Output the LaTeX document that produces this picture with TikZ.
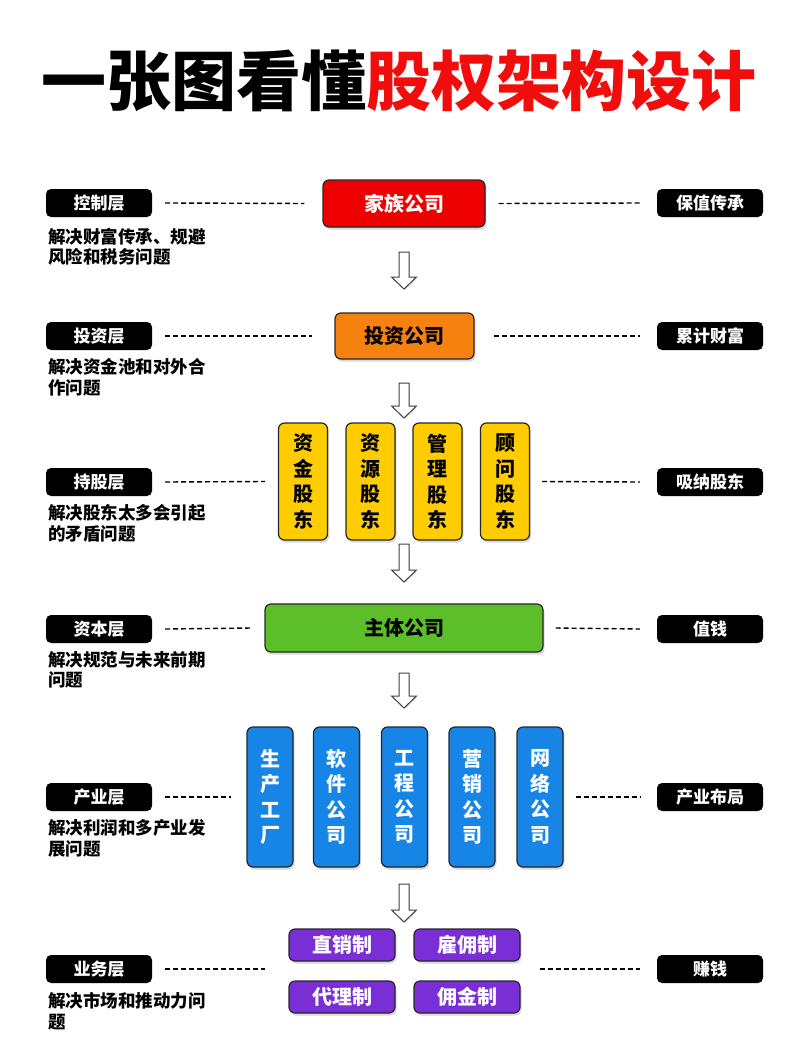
\documentclass[tikz,border=0pt]{standalone}
\usepackage{fontspec}
\setmainfont{Noto Sans CJK SC}
\usetikzlibrary{shadows}
\definecolor{titlered}{HTML}{F20D0D}
\definecolor{cred}{HTML}{EE0000}
\definecolor{corange}{HTML}{F5820F}
\definecolor{cyellow}{HTML}{FFCC00}
\definecolor{cgreen}{HTML}{5CBF2A}
\definecolor{cblue}{HTML}{1685E6}
\definecolor{cpurple}{HTML}{7A2FD6}
\newcommand\blockarrow[3]{%
  \draw[blockarr] (#1-5,#2) -- (#1+5,#2) -- (#1+5,#3-12) -- (#1+12.5,#3-12) -- (#1,#3) -- (#1-12.5,#3-12) -- (#1-5,#3-12) -- cycle;}
\begin{document}
\begin{tikzpicture}[x=1pt,y=-1pt]
\useasboundingbox (0,0) rectangle (800,1044);
\tikzset{
  tag/.style={fill=black, rounded corners=5pt, minimum width=106pt, minimum height=28pt, text=white, font=\fontsize{17}{17}\selectfont\bfseries, inner sep=0pt},
  desc/.style={anchor=west, align=left, font=\fontsize{17.5}{20.5}\selectfont\bfseries, inner sep=0pt},
  box/.style={draw=black!85, line width=1.2pt, rounded corners=6pt, inner sep=0pt, drop shadow={shadow xshift=1.5pt, shadow yshift=-2.5pt, opacity=0.3}},
  hbox/.style={box, font=\fontsize{20}{20}\selectfont\bfseries},
  vbox/.style={box, align=center, font=\fontsize{20}{25.5}\selectfont\bfseries},
  dashline/.style={dash pattern=on 5pt off 3pt, line width=1.4pt},
  blockarr/.style={draw=black!75, fill=white, line width=1pt, line join=miter, drop shadow={shadow xshift=1pt, shadow yshift=-1.5pt, opacity=0.2}}
}
% title
\node[inner sep=0pt, font=\fontsize{65}{65}\selectfont\bfseries] (title) at (399,81) {一张图看懂\textcolor{titlered}{股权架构设计}};

% left tags
\node[tag] (l1) at (99,203) {控制层};
\node[tag] (l2) at (99,336) {投资层};
\node[tag] (l3) at (99,482) {持股层};
\node[tag] (l4) at (99,629) {资本层};
\node[tag] (l5) at (99,797) {产业层};
\node[tag] (l6) at (99,969) {业务层};
% right tags
\node[tag] (r1) at (710,203) {保值传承};
\node[tag] (r2) at (710,336) {累计财富};
\node[tag] (r3) at (710,482) {吸纳股东};
\node[tag] (r4) at (710,629) {值钱};
\node[tag] (r5) at (710,797) {产业布局};
\node[tag] (r6) at (710,969) {赚钱};
% descriptions
\node[desc] (d1) at (48,247) {解决财富传承、规避\\风险和税务问题};
\node[desc] (d2) at (48,377) {解决资金池和对外合\\作问题};
\node[desc] (d3) at (48,523.5) {解决股东太多会引起\\的矛盾问题};
\node[desc] (d4) at (48,670) {解决规范与未来前期\\问题};
\node[desc] (d5) at (48,838.5) {解决利润和多产业发\\展问题};
\node[desc] (d6) at (48,1011) {解决市场和推动力问\\题};

% main boxes
\node[hbox, fill=cred, text=white, minimum width=162pt, minimum height=47pt] (fam) at (404,203.5) {家族公司};
\node[hbox, fill=corange, text=black, minimum width=139pt, minimum height=46pt] (inv) at (404.5,336) {投资公司};
\node[vbox, fill=cyellow, text=black, minimum width=49pt, minimum height=117pt] (y1) at (303,481.5) {资\\金\\股\\东};
\node[vbox, fill=cyellow, text=black, minimum width=49pt, minimum height=117pt] (y2) at (370.5,481.5) {资\\源\\股\\东};
\node[vbox, fill=cyellow, text=black, minimum width=49pt, minimum height=117pt] (y3) at (437.5,481.5) {管\\理\\股\\东};
\node[vbox, fill=cyellow, text=black, minimum width=49pt, minimum height=117pt] (y4) at (505,481.5) {顾\\问\\股\\东};
\node[hbox, fill=cgreen, text=black, minimum width=278pt, minimum height=48pt] (main) at (404,628) {主体公司};
\node[vbox, fill=cblue, text=white, minimum width=46pt, minimum height=140pt] (b1) at (270,797) {生\\产\\工\\厂};
\node[vbox, fill=cblue, text=white, minimum width=46pt, minimum height=140pt] (b2) at (336.5,797) {软\\件\\公\\司};
\node[vbox, fill=cblue, text=white, minimum width=46pt, minimum height=140pt] (b3) at (404.5,797) {工\\程\\公\\司};
\node[vbox, fill=cblue, text=white, minimum width=46pt, minimum height=140pt] (b4) at (472,797) {营\\销\\公\\司};
\node[vbox, fill=cblue, text=white, minimum width=46pt, minimum height=140pt] (b5) at (540,797) {网\\络\\公\\司};
\node[hbox, fill=cpurple, text=white, minimum width=106pt, minimum height=32pt] (p1) at (342,945) {直销制};
\node[hbox, fill=cpurple, text=white, minimum width=106pt, minimum height=32pt] (p2) at (467,945) {雇佣制};
\node[hbox, fill=cpurple, text=white, minimum width=106pt, minimum height=32pt] (p3) at (342,997) {代理制};
\node[hbox, fill=cpurple, text=white, minimum width=106pt, minimum height=32pt] (p4) at (467,997) {佣金制};
\coordinate (p6l) at (265,969);
\coordinate (p6r) at (540,969);

% dashed connectors
\draw[dashline] ([xshift=13pt]l1.east) -- ([xshift=-18pt]fam.west);
\draw[dashline] ([xshift=13pt]l2.east) -- ([xshift=-22pt]inv.west);
\draw[dashline] ([xshift=13pt]l3.east) -- ([xshift=-13pt]y1.west);
\draw[dashline] ([xshift=13pt]l4.east) -- ([xshift=-13pt]main.west);
\draw[dashline] ([xshift=13pt]l5.east) -- ([xshift=-15pt]b1.west);
\draw[dashline] ([xshift=13pt]l6.east) -- (p6l);
\draw[dashline] ([xshift=13pt]fam.east) -- ([xshift=-17pt]r1.west);
\draw[dashline] ([xshift=19pt]inv.east) -- ([xshift=-17pt]r2.west);
\draw[dashline] ([xshift=12pt]y4.east) -- ([xshift=-17pt]r3.west);
\draw[dashline] ([xshift=12pt]main.east) -- ([xshift=-17pt]r4.west);
\draw[dashline] ([xshift=12pt]b5.east) -- ([xshift=-17pt]r5.west);
\draw[dashline] (p6r) -- ([xshift=-17pt]r6.west);

% block arrows
\blockarrow{404}{252}{289}
\blockarrow{404}{383}{418}
\blockarrow{404}{544}{582}
\blockarrow{404}{673}{708}
\blockarrow{404}{884}{922}
\end{tikzpicture}
\end{document}
